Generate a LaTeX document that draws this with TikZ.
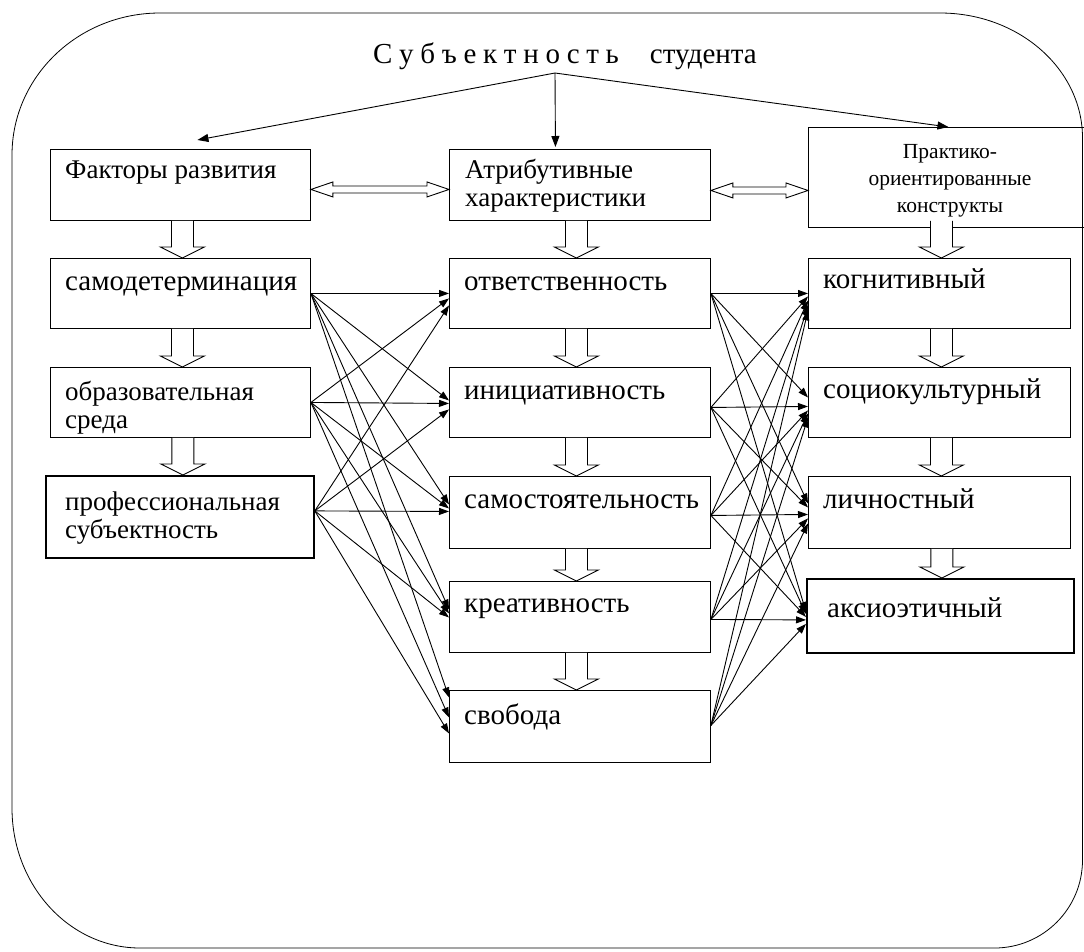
\documentclass[tikz,border=0pt]{standalone}
\usepackage{fontspec}
\setmainfont{LiberationSerif}[Extension=.ttf, UprightFont=*-Regular, BoldFont=*-Bold, ItalicFont=*-Italic, BoldItalicFont=*-BoldItalic]
\usetikzlibrary{arrows.meta,calc}
\newcommand\hollowdown[4]{%
  \draw[hollow] ($(#1.south -| #2.north)+(#3-11,#4)$) -- ($(#2.north)+(#3-11,-11)$) -- ($(#2.north)+(#3-22,-11)$) -- ($(#2.north)+(#3,0)$) -- ($(#2.north)+(#3+22,-11)$) -- ($(#2.north)+(#3+11,-11)$) -- ($(#1.south -| #2.north)+(#3+11,#4)$);}
\newcommand\hollowboth[4]{%
  \draw[hollow] ($(#1.east)+(0,#3)$) -- ($(#1.east)+(22,#3-7.5)$) -- ($(#1.east)+(22,#3-3.5)$) -- ($(#2.west)+(-22,#4-3.5)$) -- ($(#2.west)+(-22,#4-7.5)$) -- ($(#2.west)+(0,#4)$) -- ($(#2.west)+(-22,#4+7.5)$) -- ($(#2.west)+(-22,#4+3.5)$) -- ($(#1.east)+(22,#3+3.5)$) -- ($(#1.east)+(22,#3+7.5)$) -- cycle;}
\newcommand\lsp{\hspace{6.7pt}}
\begin{document}
\begin{tikzpicture}[x=1pt,y=-1pt,
  box/.style={draw, line width=0.9pt, anchor=north west, inner sep=0pt},
  thickbox/.style={box, line width=1.8pt},
  txt/.style={anchor=north west, inner sep=0pt, align=left, font=\fontsize{27}{28}\selectfont},
  bigtxt/.style={txt, font=\fontsize{29}{28}\selectfont},
  conn/.style={line width=0.9pt, -{Triangle[length=10pt,width=7pt]}},
  hollow/.style={line width=0.9pt, fill=white},
]
\useasboundingbox (0,0) rectangle (1084,951);
% outer frame
\draw[line width=0.8pt] (160,13) -- (940,13)
  arc[start angle=-90, end angle=0, x radius=142.5, y radius=125] -- (1082.5,860)
  arc[start angle=0, end angle=90, x radius=88, y radius=88] -- (140,948)
  arc[start angle=90, end angle=180, x radius=128, y radius=140] -- (12,155)
  arc[start angle=180, end angle=270, x radius=148, y radius=142] -- cycle;
% title
\node[anchor=base west, inner sep=0pt, font=\fontsize{29}{30}\selectfont] (ttl) at (373,63) {С\lsp у\lsp б\lsp ъ\lsp е\lsp к\lsp т\lsp н\lsp о\lsp с\lsp т\lsp ь\hspace{31pt}студента};
\coordinate (o) at (555,73);
% boxes
\node[box, minimum width=260, minimum height=71] (f0) at (50,149) {};
\node[box, minimum width=260, minimum height=70] (f1) at (50,258) {};
\node[box, minimum width=260, minimum height=70] (f2) at (50,367) {};
\node[thickbox, minimum width=268, minimum height=82] (f3) at (45,475) {};
\node[box, minimum width=261, minimum height=71] (a0) at (449,149) {};
\node[box, minimum width=261, minimum height=70] (a1) at (449,258) {};
\node[box, minimum width=261, minimum height=70] (a2) at (449,367) {};
\node[box, minimum width=261, minimum height=72] (a3) at (449,476) {};
\node[box, minimum width=261, minimum height=71] (a4) at (449,581) {};
\node[box, minimum width=261, minimum height=72] (a5) at (449,690) {};
\node[box, minimum width=280, minimum height=100] (c0) at (808,127) {};
\node[box, minimum width=262, minimum height=70] (c1) at (808,258) {};
\node[box, minimum width=262, minimum height=70] (c2) at (808,367) {};
\node[box, minimum width=262, minimum height=72] (c3) at (808,476) {};
\node[thickbox, minimum width=267, minimum height=74] (c4) at (806,578) {};
% texts
\node[txt] (tf0) at (65,158.4) {\strut Факторы развития};
\node[txt] (ta0) at (465,158.4) {\strut Атрибутивные\\характеристики};
\node[anchor=north, inner sep=0pt, align=center, font=\fontsize{21.5}{27}\selectfont] (tc0) at (950,139.1) {\strut Практико-\\ориентированные\\конструкты};
\node[bigtxt] (tf1) at (65,270.4) {\strut самодетерминация};
\node[txt] (tf2) at (65,380.4) {\strut образовательная\\среда};
\node[txt] (tf3) at (65,490.4) {\strut профессиональная\\субъектность};
\node[bigtxt] (ta1) at (464,270.4) {\strut ответственность};
\node[bigtxt] (ta2) at (464,379.4) {\strut инициативность};
\node[bigtxt] (ta3) at (464,488.4) {\strut самостоятельность};
\node[bigtxt] (ta4) at (464,592.4) {\strut креативность};
\node[bigtxt] (ta5) at (464,703.4) {\strut свобода};
\node[bigtxt] (tc1) at (823,268.4) {\strut когнитивный};
\node[bigtxt] (tc2) at (823,378.4) {\strut социокультурный};
\node[bigtxt] (tc3) at (823,488.4) {\strut личностный};
\node[bigtxt] (tc4) at (827,597.4) {\strut аксиоэтичный};
% title arrows
\draw[line width=0.9pt, -{Triangle[length=11pt,width=8pt]}] (o) -- ($(f0.north)+(17,-9)$);
\draw[line width=0.9pt, -{Triangle[length=11pt,width=8pt]}] (o) -- ($(a0.north)+(-24.5,-2)$);
\draw[line width=0.9pt, -{Triangle[length=11pt,width=8pt]}] (o) -- ($(c0.north)+(0,0)$);
% connectors column 1 -> column 2
\foreach \s/\so/\t/\dy in {f1/0/a1/0, f1/0/a2/-2, f1/0/a3/-8, f1/0/a4/-7.5, f1/0/a5/-29,
  f2/0/a1/5, f2/0/a2/1, f2/0/a3/-4, f2/0/a4/-3.5, f2/0/a5/-9,
  f3/-6/a1/12, f3/-6/a2/7, f3/-6/a3/-1, f3/-6/a4/0.5, f3/-6/a5/7}
  \draw[conn] ($(\s.east)+(0,\so)$) -- ($(\t.west)+(0,\dy)$);
% connectors column 2 -> column 3
\foreach \s/\so/\t/\dy in {a1/0/c1/0, a1/0/c2/-5, a1/0/c3/-9, a1/0/c4/-4,
  a2/5/c1/3, a2/5/c2/4, a2/5/c3/-5, a2/5/c4/-2,
  a3/3/c1/7, a3/3/c2/8, a3/3/c3/2, a3/3/c4/1,
  a4/2.5/c1/12, a4/2.5/c2/11, a4/2.5/c3/6, a4/2.5/c4/4,
  a5/-1/c1/17, a5/-1/c2/15, a5/-1/c3/11, a5/-1/c4/8}
  \draw[conn] ($(\s.east)+(0,\so)$) -- ($(\t.west)+(0,\dy)$);
% hollow arrows
\hollowdown{f0}{f1}{2}{0}
\hollowdown{f1}{f2}{2}{0}
\hollowdown{f2}{f3}{3}{0}
\hollowdown{a0}{a1}{-3.5}{0}
\hollowdown{a1}{a2}{-3.5}{0}
\hollowdown{a2}{a3}{-3.5}{0}
\hollowdown{a3}{a4}{-3.5}{0}
\hollowdown{a4}{a5}{-3.5}{0}
\hollowdown{c0}{c1}{2}{-7}
\hollowdown{c1}{c2}{2}{0}
\hollowdown{c2}{c3}{2}{0}
\hollowdown{c3}{c4}{1.5}{0}
\hollowboth{f0}{a0}{4.5}{4.5}
\hollowboth{a0}{c0}{5.5}{13}
\end{tikzpicture}
\end{document}
